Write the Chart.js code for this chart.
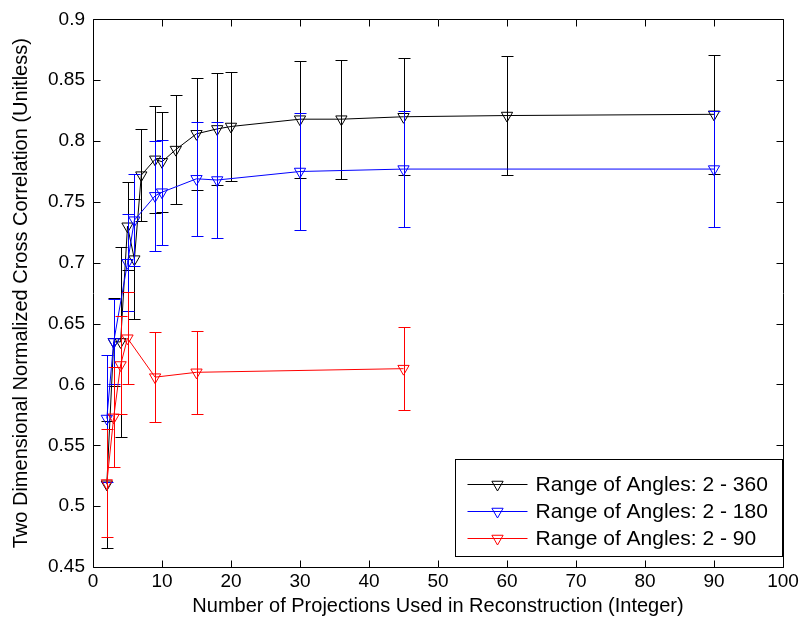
<!DOCTYPE html>
<html><head><meta charset="utf-8">
<script src="https://cdn.jsdelivr.net/npm/chart.js@4.4.1/dist/chart.umd.min.js"></script>
<style>html,body{margin:0;padding:0;background:#fff;}canvas{display:block;}</style>
</head><body>
<canvas id="c" width="805" height="626"></canvas>
<script>
// ---- data ----
const seriesNames = ['Range of Angles: 2 - 360', 'Range of Angles: 2 - 180', 'Range of Angles: 2 - 90'];
const seriesColors = ['#000000', '#0000FF', '#FF0000'];

const xBlack = [2, 3, 4, 5, 6, 7, 9, 10, 12, 15, 18, 20, 30, 36, 45, 60, 90];
const yBlack = [0.518, 0.635, 0.635, 0.730, 0.703, 0.772, 0.785, 0.783, 0.793, 0.806, 0.810, 0.812, 0.818, 0.818, 0.820, 0.821, 0.822];
const eBlack = [0.052, 0.036, 0.078, 0.036, 0.049, 0.038, 0.044, 0.041, 0.045, 0.046, 0.046, 0.045, 0.048, 0.049, 0.048, 0.049, 0.049];

const xBlue = [2, 3, 5, 6, 9, 10, 15, 18, 30, 45, 90];
const yBlue = [0.572, 0.635, 0.700, 0.735, 0.755, 0.758, 0.769, 0.768, 0.775, 0.777, 0.777];
const eBlue = [0.052, 0.035, 0.040, 0.038, 0.045, 0.043, 0.047, 0.048, 0.048, 0.048, 0.048];

const xRed = [2, 3, 4, 5, 9, 15, 45];
const yRed = [0.519, 0.573, 0.616, 0.638, 0.606, 0.610, 0.613];
const eRed = [0.044, 0.041, 0.040, 0.038, 0.037, 0.034, 0.034];

const xTicks = [0, 10, 20, 30, 40, 50, 60, 70, 80, 90, 100];
const yTicks = [0.45, 0.5, 0.55, 0.6, 0.65, 0.7, 0.75, 0.8, 0.85, 0.9];
const yTickLabels = ['0.45', '0.5', '0.55', '0.6', '0.65', '0.7', '0.75', '0.8', '0.85', '0.9'];
const xTitle = 'Number of Projections Used in Reconstruction (Integer)';
const yTitle = 'Two Dimensional Normalized Cross Correlation (Unitless)';

const FONT = '"Liberation Sans", Arial, sans-serif';

function pts(xs, ys) { return xs.map((x, i) => ({x: x, y: ys[i]})); }

function makeDataset(i, xs, ys, es, order) {
  return {
    label: seriesNames[i],
    data: pts(xs, ys),
    errors: es,
    borderColor: seriesColors[i],
    backgroundColor: 'rgba(0,0,0,0)',
    borderWidth: 1,
    pointStyle: 'triangle',
    rotation: 180,
    pointRadius: 6.5,
    pointBorderWidth: 1,
    pointBorderColor: seriesColors[i],
    pointBackgroundColor: 'rgba(0,0,0,0)',
    tension: 0,
    order: order
  };
}

const errorBarPlugin = {
  id: 'errorBars',
  beforeDatasetDraw(chart, args) {
    const ds = chart.data.datasets[args.index];
    if (!ds.errors) return;
    const xs = chart.scales.x, ys = chart.scales.y, ctx = chart.ctx;
    ctx.save();
    ctx.strokeStyle = ds.borderColor;
    ctx.lineWidth = 1;
    ctx.beginPath();
    ds.data.forEach((p, i) => {
      const e = ds.errors[i];
      const px = Math.round(xs.getPixelForValue(p.x)) + 0.5;
      const pt = Math.round(ys.getPixelForValue(p.y + e)) + 0.5;
      const pb = Math.round(ys.getPixelForValue(p.y - e)) + 0.5;
      ctx.moveTo(px, pt); ctx.lineTo(px, pb);
      ctx.moveTo(px - 6, pt); ctx.lineTo(px + 6, pt);
      ctx.moveTo(px - 6, pb); ctx.lineTo(px + 6, pb);
    });
    ctx.stroke();
    ctx.restore();
  }
};

function drawTri(ctx, cx, cy, r, color) {
  ctx.save();
  ctx.strokeStyle = color; ctx.lineWidth = 1;
  ctx.beginPath();
  const h = r * Math.sqrt(3) / 2;
  ctx.moveTo(cx - h, cy - r / 2);
  ctx.lineTo(cx + h, cy - r / 2);
  ctx.lineTo(cx, cy + r);
  ctx.closePath();
  ctx.stroke();
  ctx.restore();
}

const framePlugin = {
  id: 'frame',
  afterDraw(chart) {
    const ctx = chart.ctx, a = chart.chartArea;
    const xs = chart.scales.x, ys = chart.scales.y;
    const L = Math.round(a.left) + 0.5, R = Math.round(a.right) + 0.5, T = Math.round(a.top) + 0.5, B = Math.round(a.bottom) + 0.5;
    ctx.save();
    ctx.strokeStyle = '#000'; ctx.lineWidth = 1;
    ctx.beginPath();
    ctx.rect(L, T, R - L, B - T);
    const tl = 7;
    xs.ticks.forEach(t => {
      const px = Math.round(xs.getPixelForValue(t.value)) + 0.5;
      ctx.moveTo(px, B); ctx.lineTo(px, B - tl);
      ctx.moveTo(px, T); ctx.lineTo(px, T + tl);
    });
    ys.ticks.forEach(t => {
      const py = Math.round(ys.getPixelForValue(t.value)) + 0.5;
      ctx.moveTo(L, py); ctx.lineTo(L + tl, py);
      ctx.moveTo(R, py); ctx.lineTo(R - tl, py);
    });
    ctx.stroke();

    // legend box (bottom-right, inside the axes)
    const bw = 327, bh = 97;
    const bx = Math.round(a.right) - 328 + 0.5, by = Math.round(a.bottom) - 108 + 0.5;
    ctx.fillStyle = '#fff';
    ctx.fillRect(bx, by, bw, bh);
    ctx.strokeRect(bx, by, bw, bh);
    ctx.font = '21px ' + FONT;
    ctx.textBaseline = 'middle';
    ctx.textAlign = 'left';
    chart.data.datasets.forEach((ds, i) => {
      const cy = Math.round(by + 24 + i * 27) + 0.5;
      ctx.strokeStyle = ds.borderColor;
      ctx.beginPath();
      ctx.moveTo(bx + 12, cy); ctx.lineTo(bx + 72, cy);
      ctx.stroke();
      drawTri(ctx, bx + 42, cy, 6.5, ds.borderColor);
      ctx.fillStyle = '#000';
      ctx.fillText(ds.label, bx + 80, cy + 1);
    });
    ctx.restore();
  }
};

const chart = new Chart(document.getElementById('c'), {
  type: 'line',
  data: {
    datasets: [
      makeDataset(0, xBlack, yBlack, eBlack, 2),
      makeDataset(1, xBlue, yBlue, eBlue, 1),
      makeDataset(2, xRed, yRed, eRed, 0)
    ]
  },
  options: {
    responsive: false,
    animation: false,
    layout: {padding: {left: 0, top: 18, right: 22, bottom: 0}},
    plugins: {legend: {display: false}, tooltip: {enabled: false}},
    scales: {
      x: {
        type: 'linear', min: 0, max: 100,
        afterBuildTicks: s => { s.ticks = xTicks.map(v => ({value: v})); },
        afterFit: s => { s.height = 59; },
        grid: {display: false, drawTicks: false},
        border: {display: false},
        ticks: {color: '#000', font: {family: FONT, size: 19}, padding: 3, maxRotation: 0, autoSkip: false},
        title: {display: true, text: xTitle, color: '#000', font: {family: FONT, size: 20}, padding: {top: 0, bottom: 8}}
      },
      y: {
        type: 'linear', min: 0.45, max: 0.9,
        afterBuildTicks: s => { s.ticks = yTicks.map(v => ({value: v})); },
        afterFit: s => { s.width = 93; },
        grid: {display: false, drawTicks: false},
        border: {display: false},
        ticks: {color: '#000', font: {family: FONT, size: 19}, padding: 8, autoSkip: false,
          callback: (v) => { const k = yTicks.findIndex(t => Math.abs(t - v) < 1e-6); return k >= 0 ? yTickLabels[k] : ''; }},
        title: {display: true, text: yTitle, color: '#000', font: {family: FONT, size: 20}, padding: {top: 9, bottom: 0}}
      }
    }
  },
  plugins: [errorBarPlugin, framePlugin]
});
</script>
</body></html>
